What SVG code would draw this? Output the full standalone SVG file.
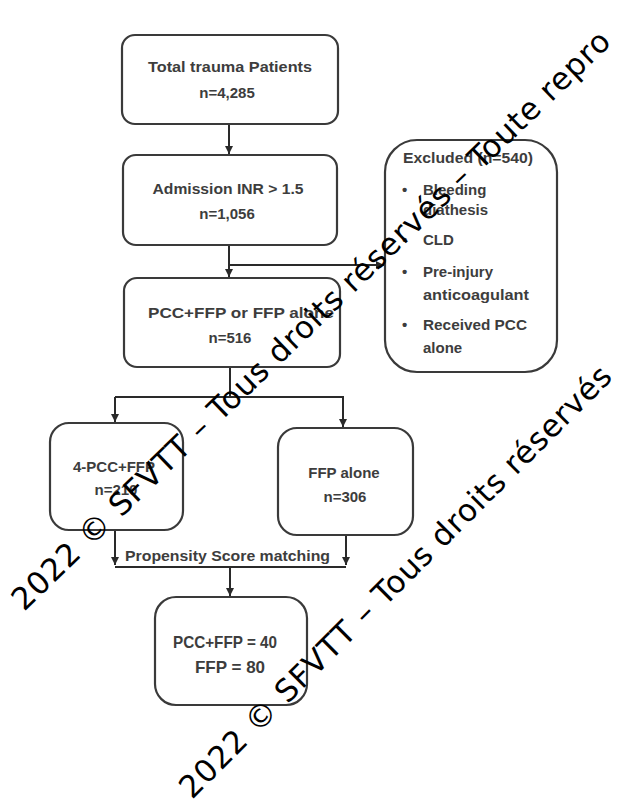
<svg xmlns="http://www.w3.org/2000/svg" width="619" height="811" viewBox="0 0 619 811">
<style>
.box{fill:#fff;stroke:#3a3a3a;stroke-width:2.2}
.t{font-family:"Liberation Sans",Arial,sans-serif;font-weight:bold;font-size:15px;fill:#3d3d3d;text-anchor:middle}
.tl{font-family:"Liberation Sans",Arial,sans-serif;font-weight:bold;font-size:15px;fill:#3d3d3d}
.c{fill:none;stroke:#2a2a2a;stroke-width:2}
.wm{font-family:"DejaVu Sans",sans-serif;font-size:31px;letter-spacing:0.8px;fill:#000}
</style>
<defs>
<marker id="ah" markerWidth="10" markerHeight="10" refX="8" refY="5" orient="auto" markerUnits="userSpaceOnUse">
<path d="M0,1 L8,5 L0,9 Z" fill="#2a2a2a"/>
</marker>
</defs>
<rect width="619" height="811" fill="#fff"/>
<g id="connectors">
<line class="c" x1="229" y1="124" x2="229" y2="154" marker-end="url(#ah)"/>
<line class="c" x1="229" y1="245" x2="229" y2="277" marker-end="url(#ah)"/>
<line class="c" x1="229" y1="265" x2="384" y2="265" marker-end="url(#ah)"/>
<polyline class="c" points="230,367 230,397"/>
<polyline class="c" points="115,397 343,397 343,427" marker-end="url(#ah)"/>
<line class="c" x1="115" y1="397" x2="115" y2="422" marker-end="url(#ah)"/>
<line class="c" x1="115" y1="530" x2="115" y2="565" marker-end="url(#ah)"/>
<line class="c" x1="346" y1="535" x2="346" y2="565" marker-end="url(#ah)"/>
<line class="c" x1="115" y1="567" x2="346" y2="567"/>
<line class="c" x1="230" y1="567" x2="230" y2="596" marker-end="url(#ah)"/>
<text class="tl" x="125" y="561" textLength="205" lengthAdjust="spacingAndGlyphs">Propensity Score matching</text>
</g>
<g id="total">
<rect class="box" x="122" y="35" width="216" height="89" rx="13"/>
<text class="t" x="230" y="72" textLength="164" lengthAdjust="spacingAndGlyphs">Total trauma Patients</text>
<text class="t" x="227" y="98">n=4,285</text>
</g>
<g id="admission">
<rect class="box" x="123" y="155" width="214" height="90" rx="13"/>
<text class="t" x="228" y="194" textLength="151" lengthAdjust="spacingAndGlyphs">Admission INR &gt; 1.5</text>
<text class="t" x="227" y="219">n=1,056</text>
</g>
<g id="pccffp">
<rect class="box" x="124" y="278" width="216" height="89" rx="13"/>
<text class="t" x="241" y="318" textLength="186" lengthAdjust="spacingAndGlyphs">PCC+FFP or FFP alone</text>
<text class="t" x="230" y="343">n=516</text>
</g>
<g id="excluded">
<rect class="box" x="385" y="140" width="172" height="232" rx="32"/>
<text class="tl" x="403" y="163" textLength="130" lengthAdjust="spacingAndGlyphs">Excluded (n=540)</text>
<text class="tl" x="402" y="195">•</text>
<text class="tl" x="423" y="195">Bleeding</text>
<text class="tl" x="423" y="215">diathesis</text>
<text class="tl" x="402" y="245">•</text>
<text class="tl" x="423" y="245">CLD</text>
<text class="tl" x="402" y="277">•</text>
<text class="tl" x="423" y="277">Pre-injury</text>
<text class="tl" x="423" y="300" textLength="106" lengthAdjust="spacingAndGlyphs">anticoagulant</text>
<text class="tl" x="402" y="330">•</text>
<text class="tl" x="423" y="330" textLength="104" lengthAdjust="spacingAndGlyphs">Received PCC</text>
<text class="tl" x="423" y="353">alone</text>
</g>
<g id="pcc4">
<rect class="box" x="50" y="423" width="133" height="107" rx="19"/>
<text class="t" x="114" y="472" textLength="82" lengthAdjust="spacingAndGlyphs">4-PCC+FFP</text>
<text class="t" x="116" y="495">n=210</text>
</g>
<g id="ffpalone">
<rect class="box" x="278" y="428" width="135" height="107" rx="19"/>
<text class="t" x="344" y="478">FFP alone</text>
<text class="t" x="345" y="502">n=306</text>
</g>
<g id="matched">
<rect class="box" x="155" y="597" width="152" height="108" rx="21"/>
<text class="t" x="225" y="648" style="font-size:17px" textLength="104" lengthAdjust="spacingAndGlyphs">PCC+FFP = 40</text>
<text class="t" x="230" y="673" style="font-size:17px">FFP = 80</text>
</g>
<g id="watermark">
<text class="wm" transform="translate(24,612) rotate(-44)">2022 © SFVTT – Tous droits réservés – Toute repro</text>
<text class="wm" transform="translate(192,800) rotate(-45)">2022 © SFVTT – Tous droits réservés</text>
</g>
</svg>
